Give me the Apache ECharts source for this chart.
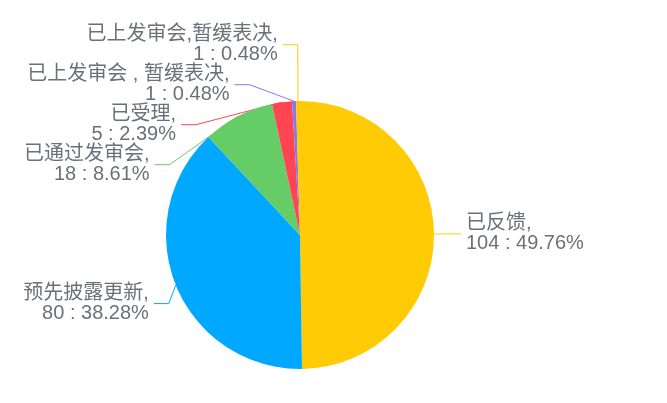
<!DOCTYPE html>
<html lang="zh">
<head>
    <meta charset="UTF-8">
    <title>Pie</title>
    <script src="https://cdn.jsdelivr.net/npm/echarts@6.0.0/dist/echarts.min.js"></script>
    <style>
        html, body { margin: 0; padding: 0; background: #fff; }
    </style>
</head>
<body>
    <div id="main" style="width: 667px;height:403px;"></div>
    <script type="text/javascript">
        // slices in clockwise order from 12 o'clock
        const names = ['已反馈', '预先披露更新', '已通过发审会', '已受理', '已上发审会 , 暂缓表决', '已上发审会,暂缓表决'];
        const counts = [104, 80, 18, 5, 1, 1];
        const palette = ['#ffcb05', '#00a8ff', '#66cc66', '#ff4552', '#8878e8'];

        const W = 667, H = 403;
        const cx = 300, cy = 235, R = 134;
        const len1 = 17, len2 = 15, gap = 5, labelH = 40;

        // old (v4 style) outside-label placement: labels pushed down then half back up,
        // then x follows a circle of radius R+len1+len2
        function adjustSide(list, dir) {
            list.sort((a, b) => a.y - b.y);
            function shiftUp(end, delta) {
                for (let j = end; j >= 0; j--) {
                    if (list[j].y - delta < 0) break;
                    list[j].y -= delta;
                    if (j > 0 && list[j].y > list[j - 1].y + labelH) break;
                }
            }
            function shiftDown(start, end, delta) {
                for (let j = start; j < end; j++) {
                    if (list[j].y + delta > H) break;
                    list[j].y += delta;
                    if (j > start && j + 1 < end && list[j + 1].y > list[j].y + labelH) {
                        shiftUp(j, delta / 2);
                        return;
                    }
                }
                shiftUp(end - 1, delta / 2);
            }
            function changeX(sub, isDown) {
                let last = isDown ? Number.MAX_VALUE : 0;
                sub.forEach((it) => {
                    const dy = Math.abs(it.y - cy);
                    const rr = R + len1 + len2;
                    let dx = dy < R + len1 ? Math.sqrt(rr * rr - dy * dy) : Math.abs(it.x - cx);
                    if (isDown && dx >= last) dx = last - 10;
                    if (!isDown && dx <= last) dx = last + 10;
                    it.x = cx + dx * dir;
                    last = dx;
                });
            }
            let lastY = 0;
            for (let i = 0; i < list.length; i++) {
                const d = list[i].y - lastY;
                if (d < 0) shiftDown(i, list.length, -d);
                lastY = list[i].y + labelH;
            }
            if (H - lastY < 0) shiftUp(list.length - 1, lastY - H);
            changeX(list.filter((it) => it.y < cy), false);
            changeX(list.filter((it) => it.y >= cy), true);
        }

        function buildLabelLayout() {
            const total = counts.reduce((a, b) => a + b, 0);
            let acc = 0;
            const items = counts.map((v, i) => {
                const mid = (acc + v / 2) / total * Math.PI * 2;
                acc += v;
                const dx = Math.sin(mid), dy = -Math.cos(mid);
                const s = dx < 0 ? -1 : 1;
                const x2 = cx + (R + len1) * dx;
                const x3 = x2 + s * len2;
                return {
                    idx: i, dir: s, x: x3 + s * gap, y: cy + (R + len1) * dy,
                    x1: cx + R * dx, y1: cy + R * dy, dist: x2 - x3
                };
            });
            adjustSide(items.filter((it) => it.dir > 0), 1);
            adjustSide(items.filter((it) => it.dir < 0), -1);
            items.forEach((it) => {
                const p3 = it.x - it.dir * gap;
                it.points = [[it.x1, it.y1], [p3 + it.dist, it.y], [p3, it.y]];
            });
            return items;
        }
        const labelPos = buildLabelLayout();

        let pieData = names.map((n, i) => ({ name: n, value: counts[i] }));

        let options = {
            color: palette,
            textStyle: { fontFamily: '"Liberation Sans", "Noto Sans CJK SC", sans-serif' },
            series: [{
                type: 'pie',
                center: [cx, cy],
                radius: R,
                startAngle: 90,
                clockwise: true,
                avoidLabelOverlap: false,
                label: {
                    formatter: '{b},\n{c} : {d}%',
                    fontSize: 20,
                    lineHeight: 20,
                    color: '#6e7079'
                },
                labelLine: { length: len1, length2: len2, lineStyle: { width: 1 } },
                labelLayout: function (p) {
                    const L = labelPos[p.dataIndex];
                    return {
                        x: L.x, y: L.y,
                        align: L.dir < 0 ? 'right' : 'left',
                        verticalAlign: 'middle',
                        labelLinePoints: L.points
                    };
                },
                emphasis: { disabled: true },
                data: pieData
            }]
        };

        let myChart = echarts.init(document.getElementById('main'));
        myChart.setOption(options);
    </script>
</body>
</html>
